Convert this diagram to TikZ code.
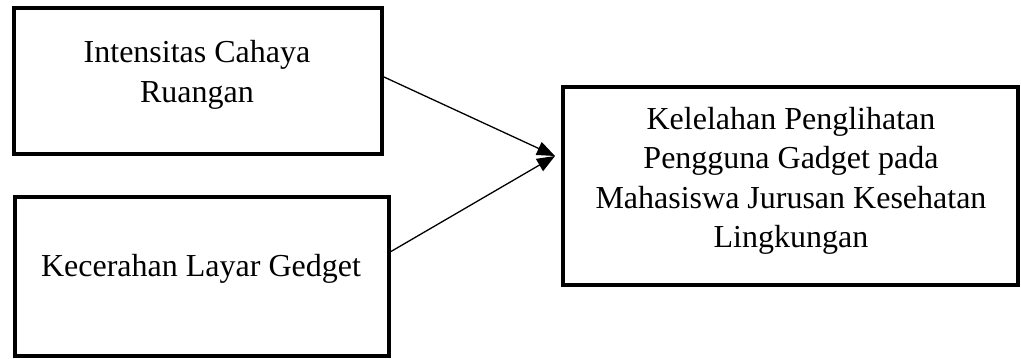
\documentclass[tikz,border=0pt]{standalone}
\usepackage{fontspec}
\setmainfont{Liberation Serif}
\usetikzlibrary{arrows.meta,calc}

\begin{document}
\begin{tikzpicture}[x=1pt,y=-1pt,
    kotak/.style={draw,line width=4pt,minimum width=#1},
    teks/.style={align=center,font=\fontsize{32}{39.5}\selectfont},
    panah/.style={line width=1.3pt,-{Triangle[length=18pt,width=14pt]}}]
    \useasboundingbox (0,0) rectangle (1021,359);
    % kotak variabel
    \node[kotak=368,minimum height=146] (ic) at (198,81) {};
    \node[kotak=374,minimum height=159] (kl) at (202,276.5) {};
    \node[kotak=455,minimum height=198] (kp) at (790.5,186) {};
    \node[teks] (tic) at (197,75) {Intensitas Cahaya\\Ruangan};
    \node[teks] (tkl) at (201,269) {Kecerahan Layar Gedget};
    \node[teks] (tkp) at (791,181) {Kelelahan Penglihatan\\Pengguna Gadget pada\\Mahasiswa Jurusan Kesehatan\\Lingkungan};
    \coordinate (tip) at (555,156);
    \draw[panah] ($(ic.east)+(0,-4)$) -- (tip);
    \draw[panah] ($(kl.east)+(0,-25)$) -- (tip);
\end{tikzpicture}
\end{document}
